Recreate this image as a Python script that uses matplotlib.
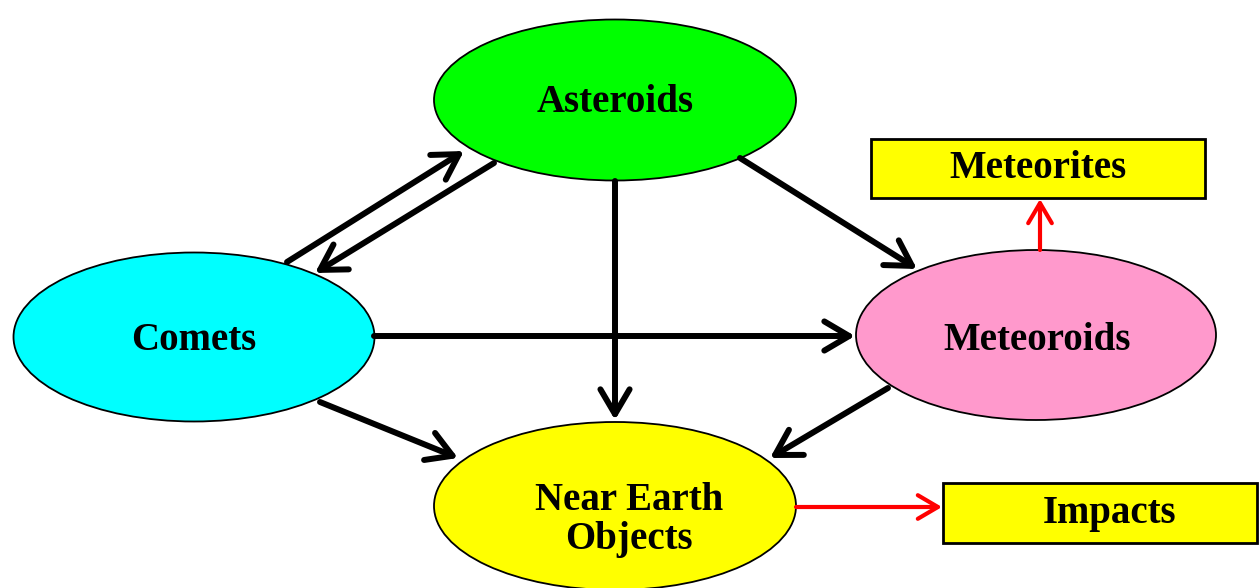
import matplotlib.pyplot as plt
from matplotlib.patches import Ellipse, Rectangle, FancyArrowPatch

plt.rcParams['font.family'] = ['Liberation Serif', 'DejaVu Serif']

# nodes of the diagram
ellipse_labels = ["Asteroids", "Comets", "Meteoroids", "Near Earth\nObjects"]
box_labels = ["Meteorites", "Impacts"]

# links between nodes (source, target)
black_links = [("Comets", "Asteroids"), ("Asteroids", "Comets"),
               ("Asteroids", "Near Earth\nObjects"), ("Asteroids", "Meteoroids"),
               ("Comets", "Meteoroids"), ("Comets", "Near Earth\nObjects"),
               ("Meteoroids", "Near Earth\nObjects")]
red_links = [("Meteoroids", "Meteorites"), ("Near Earth\nObjects", "Impacts")]

# layout in pixel coordinates (y down)
ellipse_geom = {
    "Asteroids": ((615, 100), 362, 161, "#00ff00", (615, 103)),
    "Comets": ((194, 337), 361, 169, "#00ffff", (194, 340)),
    "Meteoroids": ((1036, 335), 360, 170, "#ff99cc", (1037, 340)),
    "Near Earth\nObjects": ((615, 506), 362, 168, "#ffff00", (629, 520)),
}
box_geom = {
    "Meteorites": ((871, 139), 334, 59, (1038, 169)),
    "Impacts": ((943, 483), 314, 60, (1110, 514)),
}
link_ends = {
    ("Comets", "Asteroids"): ((287, 262), (464, 151)),
    ("Asteroids", "Comets"): ((494, 163), (315, 273)),
    ("Asteroids", "Near Earth\nObjects"): ((615, 181), (615, 420)),
    ("Asteroids", "Meteoroids"): ((740, 158), (917, 269)),
    ("Comets", "Meteoroids"): ((374, 336), (855, 336)),
    ("Comets", "Near Earth\nObjects"): ((320, 402), (458, 458)),
    ("Meteoroids", "Near Earth\nObjects"): ((888, 388), (770, 458)),
    ("Meteoroids", "Meteorites"): ((1040, 250), (1040, 199)),
    ("Near Earth\nObjects", "Impacts"): ((796, 507), (942, 507)),
}

fig = plt.figure(figsize=(12.59, 5.88), dpi=100)
ax = fig.add_axes([0, 0, 1, 1])
ax.set_xlim(0, 1259)
ax.set_ylim(588, 0)
ax.axis('off')

# Ellipses
for name in ellipse_labels:
    center, w, h, color, text_pos = ellipse_geom[name]
    ax.add_patch(Ellipse(center, w, h, facecolor=color, edgecolor='black', lw=1.3, zorder=1))
    ax.text(*text_pos, name, ha='center', va='center', fontsize=28, fontweight='bold',
            linespacing=1.05, zorder=4)

# Boxes
for name in box_labels:
    corner, w, h, text_pos = box_geom[name]
    ax.add_patch(Rectangle(corner, w, h, facecolor='#ffff00', edgecolor='black', lw=2, zorder=1))
    ax.text(*text_pos, name, ha='center', va='center', fontsize=28, fontweight='bold', zorder=4)

# Arrows
def draw_link(link, color, lw, scale):
    start, end = link_ends[link]
    arrow = FancyArrowPatch(start, end, arrowstyle='->,head_length=0.85,head_width=0.5',
                            mutation_scale=scale, color=color, lw=lw, shrinkA=0, shrinkB=0,
                            capstyle='round', joinstyle='round', zorder=3)
    ax.add_patch(arrow)

for link in black_links:
    draw_link(link, 'black', 4.3, 21)
for link in red_links:
    draw_link(link, '#ff0000', 3, 17)

fig.savefig("out.png", dpi=100)
